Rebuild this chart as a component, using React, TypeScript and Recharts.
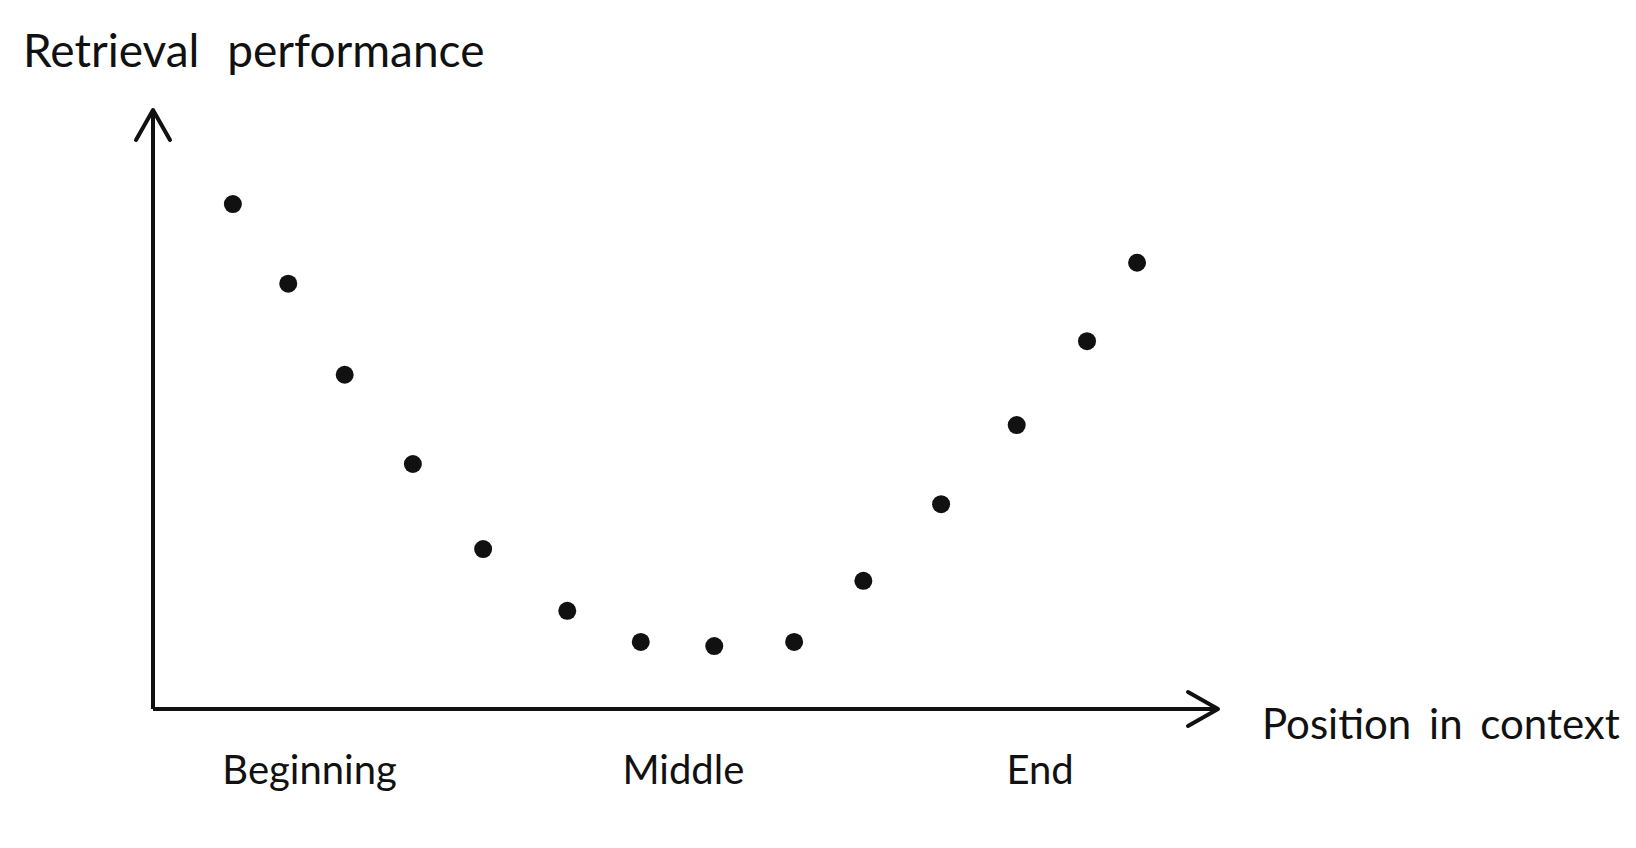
import React from "react";
import { ScatterChart, Scatter, XAxis, YAxis } from "recharts";

// position in context (0 = start of window, 100 = end of x axis)
const positions = [7.5, 12.7, 18.0, 24.4, 31.0, 38.9, 45.8, 52.7, 60.2, 66.7, 74.0, 81.1, 87.7, 92.4];
// retrieval performance (0 = x axis, 100 = top of y axis)
const performance = [84.3, 71.0, 55.8, 40.9, 26.7, 16.4, 11.2, 10.5, 11.2, 21.4, 34.2, 47.4, 61.4, 74.5];

const tickPositions = [14.7, 49.8, 83.3];
const tickLabels = ["Beginning", "Middle", "End"];

const data = positions.map((x, i) => ({ x, y: performance[i] }));

const ink = "#111";
const font = "Lato, 'Open Sans', sans-serif";

const Dot = (props: any) => <circle cx={props.cx} cy={props.cy} r={9} fill={ink} />;

export default function App() {
  return (
    <div style={{ position: "absolute", left: 0, top: 0, width: 1636, height: 848, background: "#fff", fontFamily: font }}>
      <ScatterChart width={1636} height={848} margin={{ top: 110, right: 418, bottom: 59, left: 143 }}>
        <defs>
          <marker
            id="chevron"
            viewBox="0 0 40 40"
            refX={33}
            refY={20}
            markerWidth={40}
            markerHeight={40}
            markerUnits="userSpaceOnUse"
            orient="auto-start-reverse"
          >
            <path d="M 3 3 L 33 20 L 3 37" fill="none" stroke={ink} strokeWidth={4} strokeLinecap="round" strokeLinejoin="round" />
          </marker>
        </defs>
        <XAxis
          type="number"
          dataKey="x"
          domain={[0, 100]}
          ticks={tickPositions}
          tickFormatter={(v: number) => tickLabels[tickPositions.indexOf(v)]}
          height={80}
          tickLine={false}
          tickSize={0}
          tickMargin={47}
          axisLine={{ stroke: ink, strokeWidth: 4, markerEnd: "url(#chevron)" }}
          tick={{ fill: ink, fontSize: 40, fontFamily: font }}
        />
        <YAxis
          type="number"
          dataKey="y"
          domain={[0, 100]}
          width={10}
          ticks={[]}
          tickLine={false}
          tick={false}
          axisLine={{ stroke: ink, strokeWidth: 4, markerStart: "url(#chevron)" }}
        />
        <Scatter data={data} shape={Dot} isAnimationActive={false} />
      </ScatterChart>
      <div
        style={{
          position: "absolute",
          left: 23,
          top: 27,
          fontSize: 46,
          wordSpacing: 16,
          color: ink,
          whiteSpace: "nowrap",
          lineHeight: 1,
        }}
      >
        Retrieval performance
      </div>
      <div
        style={{
          position: "absolute",
          left: 1262,
          top: 702,
          fontSize: 42,
          wordSpacing: 7,
          color: ink,
          whiteSpace: "nowrap",
          lineHeight: 1,
        }}
      >
        Position in context
      </div>
    </div>
  );
}
